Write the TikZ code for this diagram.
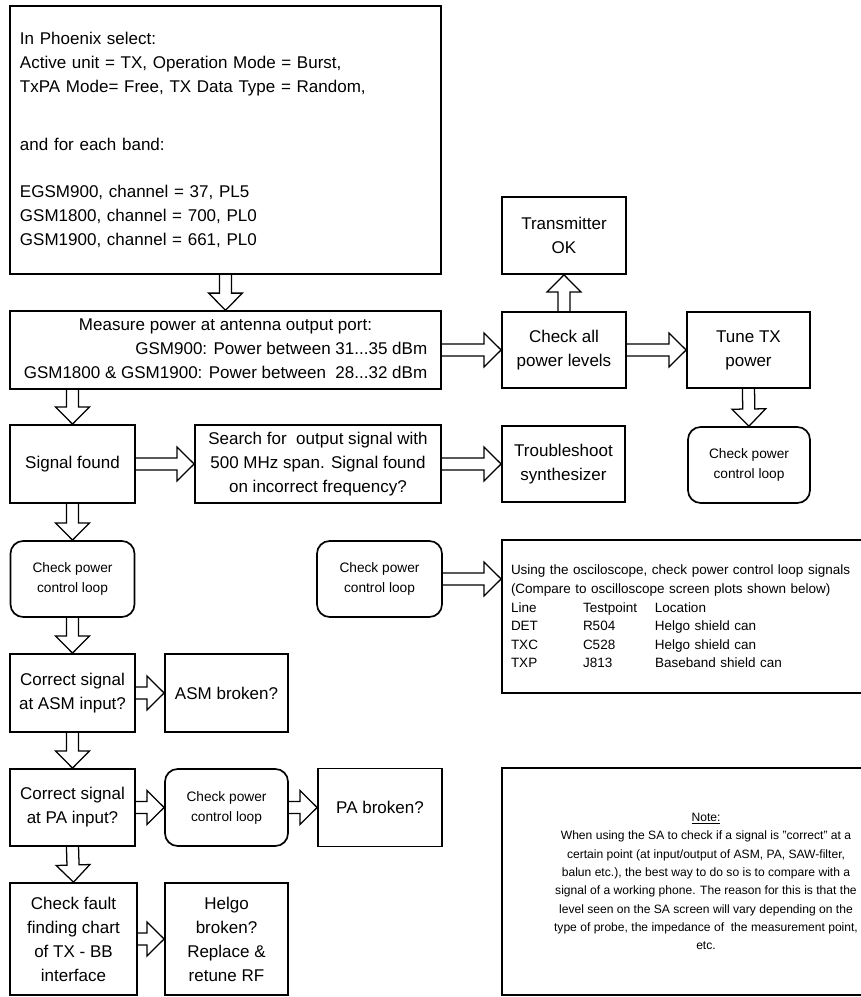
\documentclass[tikz,border=0pt]{standalone}
\usepackage{fontspec}
\setmainfont{Liberation Sans}
\usetikzlibrary{calc}
\newcommand{\probecols}[3]{\makebox[1.8cm][l]{#1}\makebox[1.8cm][l]{#2}#3}
\tikzset{
    stepbox/.style={rectangle, draw=black, line width=1.2pt, inner sep=2pt, align=center, font=\fontsize{12.1}{17.1}\selectfont},
    loopbox/.style={rectangle, rounded corners=9pt, draw=black, line width=1.2pt, inner sep=2pt, align=center, font=\fontsize{9.75}{14.2}\selectfont},
    hollow/.style={draw=black, line width=0.9pt, line join=miter,
        to path={
            let \p1=(\tikztostart), \p2=(\tikztotarget),
                \n1={atan2(\y2-\y1,\x2-\x1)},
                \n2={veclen(\x2-\x1,\y2-\y1)-12.2pt}
            in ($(\p1)+(\n1+90:4.3pt)$) -- ($(\p1)+(\n1:\n2)+(\n1+90:4.3pt)$)
            -- ($(\p1)+(\n1:\n2)+(\n1+90:12pt)$) -- (\p2)
            -- ($(\p1)+(\n1:\n2)+(\n1-90:12pt)$) -- ($(\p1)+(\n1:\n2)+(\n1-90:4.3pt)$)
            -- ($(\p1)+(\n1-90:4.3pt)$)
        }
    }
}

\begin{document}
\begin{tikzpicture}[
    infobox/.style={rectangle, draw=black, line width=1.2pt, inner xsep=0.225cm, inner ysep=2pt}
]
\useasboundingbox (0,0) rectangle (21.525,24.925);

% Setup and power measurement
\node (phoenix) [stepbox, align=left, text width=10.275cm, inner xsep=0.25cm, minimum height=6.7cm] at (5.6375, 21.425) {In Phoenix select:\\
Active unit = TX, Operation Mode = Burst,\\
TxPA Mode= Free, TX Data Type = Random,\\[24.2pt]
and for each band:\\[16.4pt]
EGSM900, channel = 37, PL5\\
GSM1800, channel = 700, PL0\\
GSM1900, channel = 661, PL0\\[6pt]};
\node (measure) [stepbox, minimum width=10.775cm, minimum height=1.9cm] at (5.6375, 16.175) {\begin{tabular}{@{}r@{}}\multicolumn{1}{@{}c@{}}{Measure power at antenna output port:}\\
GSM900: Power between 31...35 dBm\\
GSM1800 \& GSM1900: Power between~ 28...32 dBm\end{tabular}};

% Right branch
\node (txok) [stepbox, minimum width=3.1cm, minimum height=1.925cm] at (14.1, 19.0375) {Transmitter\\OK};
\node (checkall) [stepbox, minimum width=3.1cm, minimum height=1.9cm] at (14.1, 16.175) {Check all\\power levels};
\node (tunetx) [stepbox, minimum width=3.075cm, minimum height=1.9cm] at (18.7125, 16.175) {Tune TX\\power};
\node (loopright) [loopbox, minimum width=3.05cm, minimum height=1.9cm] at (18.725, 13.3) {Check power\\control loop};

% Signal search
\node (signal) [stepbox, minimum width=3.125cm, minimum height=1.95cm] at (1.8125, 13.325) {Signal found};
\node (search) [stepbox, minimum width=6.15cm, minimum height=1.95cm] at (7.95, 13.325) {Search for~ output signal with\\500 MHz span. Signal found\\on incorrect frequency?};
\node (synth) [stepbox, minimum width=3.075cm, minimum height=1.9cm] at (14.0875, 13.325) {Troubleshoot\\synthesizer};

% Power control loop checks
\node (loopleft) [loopbox, minimum width=3.1cm, minimum height=1.9cm] at (1.8125, 10.45) {Check power\\control loop};
\node (loopmid) [loopbox, minimum width=3.125cm, minimum height=1.9cm] at (9.4875, 10.45) {Check power\\control loop};
\node (scope) [infobox, align=left, text width=9.5cm, minimum height=3.825cm, font=\fontsize{9.6}{13.2}\selectfont] at (17.525, 9.5125) {Using the osciloscope, check power control loop signals\\
(Compare to oscilloscope screen plots shown below)\\
\probecols{Line}{Testpoint}{Location}\\
\probecols{DET}{R504}{Helgo shield can}\\
\probecols{TXC}{C528}{Helgo shield can}\\
\probecols{TXP}{J813}{Baseband shield can}};

% ASM and PA
\node (casm) [stepbox, minimum width=3.125cm, minimum height=1.95cm] at (1.8125, 7.6) {Correct signal\\at ASM input?};
\node (asmbroken) [stepbox, minimum width=3.075cm, minimum height=1.95cm] at (5.6625, 7.6) {ASM broken?};
\node (cpa) [stepbox, minimum width=3.125cm, minimum height=1.925cm] at (1.8125, 4.7375) {Correct signal\\at PA input?};
\node (looppa) [loopbox, minimum width=3.075cm, minimum height=1.925cm] at (5.6625, 4.7375) {Check power\\control loop};
\node (pabroken) [stepbox, minimum width=3.1cm, minimum height=1.95cm] at (9.5, 4.7375) {PA broken?};

% TX - BB interface
\node (fault) [stepbox, minimum width=3.175cm, minimum height=2.8cm] at (1.8375, 1.45) {Check fault\\finding chart\\of TX - BB\\interface};
\node (helgo) [stepbox, minimum width=3.075cm, minimum height=2.8cm] at (5.6625, 1.45) {Helgo\\broken?\\Replace \&\\retune RF};

% Note
\node (note) [infobox, align=center, minimum width=10.2cm, minimum height=5.675cm, font=\fontsize{8.6}{13}\selectfont] at (17.65, 2.8875) {\underline{Note:}\\
When using the SA to check if a signal is "correct" at a\\
certain point (at input/output of ASM, PA, SAW-filter,\\
balun etc.), the best way to do so is to compare with a\\
signal of a working phone. The reason for this is that the\\
level seen on the SA screen will vary depending on the\\
type of probe, the impedance of~ the measurement point,\\
etc.};

% Block arrows
\draw[hollow] (phoenix.south) to (measure.north);
\draw[hollow] (measure.east) to (checkall.west);
\draw[hollow] (checkall.north) to (txok.south);
\draw[hollow] (checkall.east) to (tunetx.west);
\draw[hollow] (tunetx.south) to (loopright.north);
\draw[hollow] (measure.south -| signal.north) to (signal.north);
\draw[hollow] (signal.east) to (search.west);
\draw[hollow] (search.east) to (synth.west);
\draw[hollow] (signal.south) to (loopleft.north);
\draw[hollow] (loopleft.south) to (casm.north);
\draw[hollow] (loopmid.east) to (loopmid.east -| scope.west);
\draw[hollow] (casm.east) to (asmbroken.west);
\draw[hollow] (casm.south) to (cpa.north);
\draw[hollow] (cpa.east) to (looppa.west);
\draw[hollow] (looppa.east) to (pabroken.west);
\draw[hollow] (cpa.south) to (fault.north);
\draw[hollow] (fault.east) to (helgo.west);

\end{tikzpicture}
\end{document}
